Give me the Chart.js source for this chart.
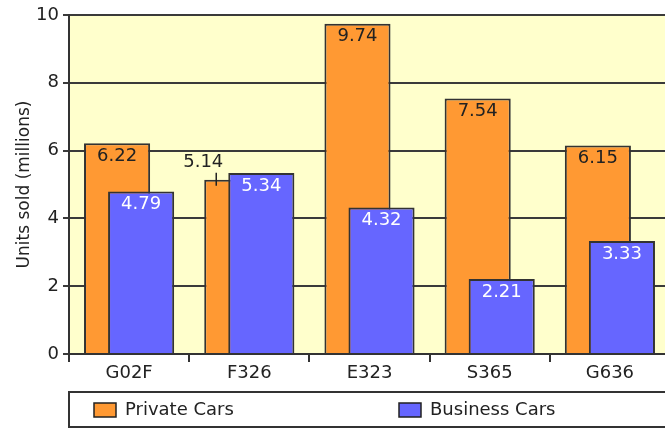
<!DOCTYPE html>
<html>
<head>
<meta charset="utf-8">
<script src="https://cdn.jsdelivr.net/npm/chart.js@4"></script>
<style>
  html, body { margin: 0; padding: 0; background: #fff; overflow: hidden; }
  #wrap { width: 665px; height: 428px; overflow: hidden; }
</style>
</head>
<body>
<div id="wrap"><canvas id="grafico" width="680" height="428"></canvas></div>
<script>
// datos del gráfico
var modelos = ['G02F', 'F326', 'E323', 'S365', 'G636'];
var privateCars = [6.22, 5.14, 9.74, 7.54, 6.15];
var businessCars = [4.79, 5.34, 4.32, 2.21, 3.33];
var yTicks = [0, 2, 4, 6, 8, 10];

var fuente = 'DejaVu Sans';
var tinta = '#222';

// fondo amarillo del área de trazado
var fondoPlugin = {
    id: 'fondo',
    beforeDraw: function (chart) {
        var a = chart.chartArea, ctx = chart.ctx;
        ctx.save();
        ctx.fillStyle = '#FFFFCC';
        ctx.fillRect(a.left, a.top, a.right - a.left, a.bottom - a.top);
        ctx.restore();
    },
    // dibujar la serie naranja detrás de la azul
    beforeDatasetsDraw: function (chart) {
        chart.getDatasetMeta(0).controller.draw();
        chart.getDatasetMeta(1).controller.draw();
        return false;
    }
};

// etiquetas de valores + leyenda con marco
var etiquetasPlugin = {
    id: 'etiquetas',
    afterDraw: function (chart) {
        var ctx = chart.ctx, a = chart.chartArea;
        var m0 = chart.getDatasetMeta(0), m1 = chart.getDatasetMeta(1);
        ctx.save();
        ctx.font = '18px "' + fuente + '"';
        ctx.textAlign = 'center';
        ctx.textBaseline = 'middle';
        m0.data.forEach(function (bar, i) {
            var v = privateCars[i];
            var azul = m1.data[i];
            if (businessCars[i] > v) {
                // la barra queda tapada: etiqueta arriba con una marca
                var izq = bar.x - bar.width / 2;
                var visible = (izq + (azul.x - azul.width / 2)) / 2;
                ctx.strokeStyle = tinta;
                ctx.lineWidth = 1.5;
                ctx.beginPath();
                ctx.moveTo(visible, bar.y - 7);
                ctx.lineTo(visible, bar.y + 6);
                ctx.stroke();
                ctx.fillStyle = tinta;
                ctx.fillText(v.toFixed(2), visible - 13, bar.y - 17);
            } else {
                ctx.fillStyle = tinta;
                ctx.fillText(v.toFixed(2), bar.x, bar.y + 13);
            }
        });
        m1.data.forEach(function (bar, i) {
            ctx.fillStyle = '#fff';
            ctx.fillText(businessCars[i].toFixed(2), bar.x, bar.y + 13);
        });

        // leyenda
        var top = a.bottom + 38;
        ctx.strokeStyle = '#333';
        ctx.lineWidth = 2;
        ctx.strokeRect(a.left, top, chart.width, chart.height - top - 1);
        ctx.textAlign = 'left';
        chart.data.datasets.forEach(function (ds, i) {
            var x = a.left + 25 + i * 305;
            var y = top + 11;
            ctx.fillStyle = ds.backgroundColor;
            ctx.fillRect(x, y, 22, 14);
            ctx.strokeStyle = '#222';
            ctx.lineWidth = 1.5;
            ctx.strokeRect(x, y, 22, 14);
            ctx.fillStyle = tinta;
            ctx.fillText(ds.label, x + 31, y + 7);
        });
        ctx.restore();
    }
};

var ctx = document.getElementById('grafico').getContext('2d');
var grafico = new Chart(ctx, {
    type: 'bar',
    data: {
        labels: modelos,
        datasets: [{
            label: 'Private Cars',
            data: privateCars,
            backgroundColor: '#FF9933',
            borderColor: '#333',
            borderWidth: 2
        }, {
            label: 'Business Cars',
            data: businessCars,
            backgroundColor: '#6666FF',
            borderColor: '#333',
            borderWidth: 2
        }]
    },
    options: {
        responsive: false,
        animation: false,
        categoryPercentage: 0.4,
        barPercentage: 2.75,
        layout: {
            padding: { top: 15, right: 10, bottom: 38, left: 0 }
        },
        plugins: {
            legend: { display: false },
            tooltip: { enabled: false }
        },
        scales: {
            x: {
                grid: {
                    drawOnChartArea: false,
                    drawTicks: true,
                    tickLength: 8,
                    color: '#333',
                    lineWidth: 2,
                    offset: true
                },
                border: { color: '#333', width: 2 },
                ticks: {
                    color: tinta,
                    padding: 1,
                    font: { family: fuente, size: 18 }
                },
                afterFit: function (s) { s.height = 36; }
            },
            y: {
                min: 0,
                max: 10,
                afterBuildTicks: function (s) {
                    s.ticks = yTicks.map(function (v) { return { value: v }; });
                },
                grid: {
                    color: '#3a3a3a',
                    lineWidth: 2,
                    tickLength: 6
                },
                border: { color: '#333', width: 2 },
                ticks: {
                    color: tinta,
                    padding: 4,
                    font: { family: fuente, size: 18 }
                },
                title: {
                    display: true,
                    text: 'Units sold (millions)',
                    color: tinta,
                    font: { family: fuente, size: 17 },
                    padding: { top: 14, bottom: 0 }
                },
                afterFit: function (s) { s.width = 69; }
            }
        }
    },
    plugins: [fondoPlugin, etiquetasPlugin]
});
</script>
</body>
</html>
